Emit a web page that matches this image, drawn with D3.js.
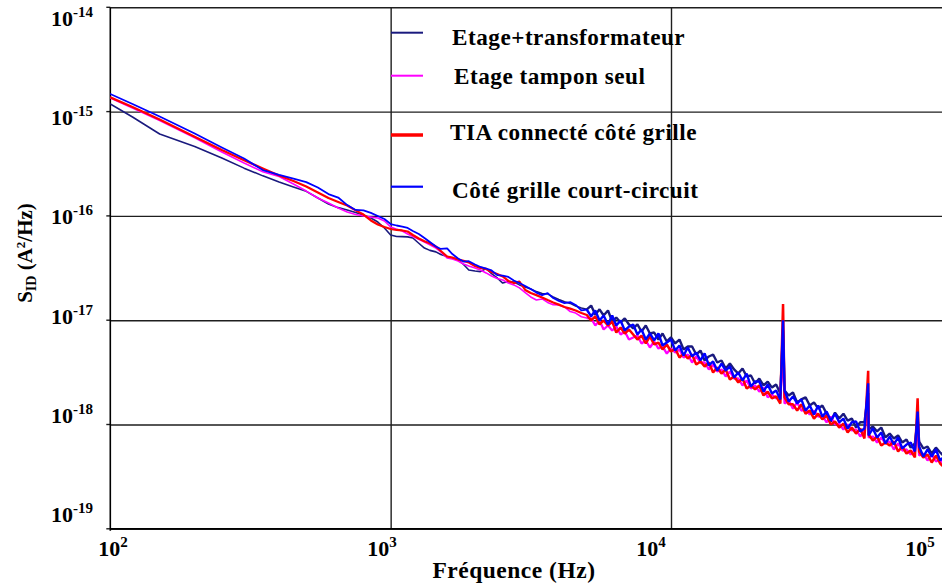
<!DOCTYPE html>
<html><head><meta charset="utf-8">
<script src="https://cdn.jsdelivr.net/npm/d3@7/dist/d3.min.js"></script>
<style>
html,body{margin:0;padding:0;background:#fff;}
svg{display:block;}
text{font-family:"Liberation Serif","Times New Roman",serif;font-weight:bold;fill:#000;}
</style></head><body>
<svg id="chart" width="942" height="584"></svg>
<script>
// ---- data (PSD values in units of 1e-18 A²/Hz) ----
const UNIT = 1e-18;
const freqs = [
100,120,150,200,250,300,350,400,450,500,550,600,650,700,750,800,850,900,950,1000,
1050,1100,1150,1200,1260,1320,1380,1450,1510,1590,1660,1740,1820,1900,2000,2090,2190,2290,2400,2510,2630,2750,2880,3020,3160,3310,3470,3630,3800,3980,4170,4370,4570,4790,5010,
5190,5370,5560,5750,5960,6170,6380,6610,6840,7080,7330,7590,7850,8130,8410,8710,9020,9330,9660,10000,
10350,10720,11090,11480,11890,12300,12740,13180,13650,14130,14620,15140,15670,16220,16790,17380,17990,18620,19280,19950,
20650,21380,22130,22910,23710,24550,25410,26300,27230,28180,29170,30200,31260,32360,33500,34670,35890,37150,38460,39810,
41210,42660,44160,45710,47320,48980,50700,52480,54330,56230,58210,60260,62370,64570,66830,69180,71610,74130,76740,79430,
82220,85110,88100,91200,94410];

const etageTransfo = [
1183,888,610,463,359,287,242,211,189,172,148.5,130,120,114,108,102,95.5,87.3,76.6,65.6,
63.5,63.3,62.9,61.4,54.7,49.2,46.7,45.2,42.6,40.8,39.5,37.8,34.2,30.3,29.6,29.2,31.3,28.0,25.4,22.7,23.5,23.2,21.8,20.8,19.9,18.8,18.0,17.9,16.7,15.8,15.0,14.5,13.7,13.1,12.7,
13.8,11.3,12.7,11.1,12.4,9.72,10.6,9.51,10.4,9.10,
8.33,9.10,7.79,8.90,7.46,7.62,6.53,7.46,6.25,6.83,
5.98,6.53,5.24,5.60,5.60,4.69,5.12,4.11,4.49,4.69,
3.93,4.11,3.44,3.84,3.37,3.08,3.44,2.89,2.95,2.47,
2.76,2.37,2.58,2.26,2.42,1.98,2.12,1.90,2.03,1.63,
1.74,1.82,1.52,1.63,1.42,1.52,1.27,1.07,1.30,1.14,
1.27,1.09,1.14,0.936,1.05,1.05,0.896,0.957,0.857,0.936,
0.751,0.818,0.734,0.785,0.672,0.718,0.600,0.658,0.687,0.589,
0.615,0.527,0.600,0.539,0.493];

const etageTampon = [
1350,1082,822,562,410,321,265,239,202,173,148.5,133,119,109,103,99.8,97.4,95.5,89.3,78.3,
74.6,71.7,67.1,63.3,59.8,56.2,52.7,49.2,45.2,39.5,38.6,37.0,34.6,33.1,31.7,30.3,28.4,26.5,25.1,24.3,22.7,21.8,20.4,18.4,16.7,15.6,16.0,14.8,14.1,14.0,13.4,12.1,11.7,10.8,10.5,
10.4,8.90,9.94,8.14,8.90,7.97,8.70,7.29,7.79,6.53,
6.83,7.13,5.98,6.39,5.47,6.25,5.35,5.60,4.79,5.35,
4.90,5.24,4.39,4.69,3.93,4.49,3.93,3.93,3.37,3.76,
3.22,3.37,2.89,3.22,2.76,2.76,2.37,2.64,2.21,2.37,
2.07,2.26,1.82,1.94,1.78,1.90,1.59,1.70,1.42,1.63,
1.36,1.39,1.25,1.36,1.19,1.22,1.05,1.19,1.00,1.02,
0.896,1.00,0.876,0.896,0.767,0.876,0.751,0.767,0.672,0.751,
0.658,0.687,0.576,0.658,0.563,0.576,0.516,0.576,0.504,0.527,
0.452,0.516,0.442,0.462,0.405];

const tiaGrille = [
1371,1107,840,575,428,342,285,244,216,191,168,148.5,136,126,113,103,90.4,82.7,78.3,74.9,
73.3,72.5,70.9,65.6,60.7,57.2,54.7,50.9,46.1,40.8,39.9,38.2,37.0,35.8,33.1,31.7,31.0,29.0,27.7,26.3,23.8,22.7,23.5,19.5,18.2,17.4,16.5,15.6,14.8,14.1,13.4,12.9,12.4,11.7,11.2,
9.94,10.9,9.10,9.94,8.90,9.72,7.62,8.51,7.46,8.14,
7.29,6.53,7.13,5.98,6.98,5.85,6.11,5.24,5.85,5.01,
5.35,4.39,4.79,4.29,4.69,3.76,4.02,3.60,3.93,3.15,
3.52,3.08,3.37,2.70,2.89,2.53,2.76,2.21,2.37,2.17,
2.37,1.90,2.07,1.78,1.86,1.59,1.82,1.56,1.56,1.36,
1.56,1.27,1.36,1.14,1.27,1.12,1.22,1.00,1.07,0.936,
1.02,0.838,0.936,0.818,0.916,0.734,0.802,0.703,0.767,0.629,
0.672,0.629,0.687,0.551,0.615,0.527,0.563,0.483,0.551,0.483,
0.516,0.432,0.504,0.423,0.387];

const grilleCC = [
1475,1183,898,617,453,355,275,247,228,211,187,162,150,127,114,113,107,99.8,93.4,83.6,
80.9,79.1,76.6,71.7,67.1,61.4,56.2,50.9,48.2,48.9,43.1,39.0,36.5,36.8,34.2,32.4,31.3,30.0,27.1,26.8,26.0,24.0,22.7,21.3,19.9,18.4,17.4,18.2,16.3,15.3,14.6,14.9,14.0,12.4,12.6,
10.9,12.4,9.94,11.1,9.10,11.1,8.90,9.94,7.97,8.70,
9.10,7.29,8.14,6.53,7.46,6.39,7.46,5.72,6.11,6.53,
5.12,5.72,4.59,5.47,4.49,4.90,4.11,4.80,3.68,4.02,
3.29,3.84,3.29,3.60,2.82,3.15,2.64,3.08,2.31,2.58,
2.58,2.07,2.42,1.98,2.12,1.74,2.12,1.66,1.86,1.59,
1.74,1.36,1.52,1.25,1.52,1.19,1.33,1.09,1.27,1.05,
1.14,0.916,1.05,1.07,0.857,0.916,0.785,0.916,0.751,0.838,
0.658,0.767,0.643,0.751,0.589,0.643,0.672,0.551,0.615,0.493,
0.576,0.493,0.576,0.452,0.493];

// line peaks (harmonics)
const spikeFreqs = [25100, 50500, 75800];
const spikeEtageTransfo = [8.0, 2.0, 1.15];
const spikeEtageTampon = [5.0, 1.4, 0.95];
const spikeTiaGrille = [14.3, 3.28, 1.78];
const spikeGrilleCC = [10.0, 2.48, 1.33];

const seriesNames = ["Etage+transformateur", "Etage tampon seul", "TIA connecté côté grille", "Côté grille court-circuit"];
const xTickValues = [1e2, 1e3, 1e4, 1e5];
const xTickExp = ["2", "3", "4", "5"];
const yTickValues = [1e-14, 1e-15, 1e-16, 1e-17, 1e-18, 1e-19];
const yTickExp = ["-14", "-15", "-16", "-17", "-18", "-19"];

// ---- styles ----
const colors = ["#1a1a7e", "#ff00ff", "#ff0000", "#0000ff"];
const widthsSmooth = [1.6, 1.6, 2.2, 1.8];
const widthsNoisy = [2.4, 2.3, 2.5, 2.4];
const legendWidths = [2, 2, 3.5, 2.2];
const NOISY_FROM = 5010;

// ---- layout ----
const W = 942, H = 584;
const L = 110.3, T = 7.3, B = 528.8;
const svg = d3.select("#chart");

const x = d3.scaleLog().domain([1e2, 1e5]).range([L, 951.35]);
const y = d3.scaleLog().domain([1e-19, 1e-14]).range([B, T]);
// label placement scales (labels are spread slightly differently from ticks)
const xLab = d3.scaleLog().domain([1e2, 1e5]).range([113, 920]);
const yLab = d3.scaleLog().domain([1e-19, 1e-14]).range([514, 18]);

// grid (horizontal) via axis
const gy = svg.append("g").attr("transform", `translate(${L},0)`)
  .call(d3.axisLeft(y).tickValues(yTickValues).tickSize(-(W - L)).tickSizeOuter(0).tickFormat(""));
gy.select(".domain").remove();
gy.selectAll(".tick line").attr("stroke", "#1e1e1e").attr("stroke-width", 1.4);
svg.append("g").selectAll("line").data(yTickValues).join("line")
  .attr("x1", L - 4).attr("x2", L).attr("y1", d => y(d)).attr("y2", d => y(d))
  .attr("stroke", "#1e1e1e").attr("stroke-width", 1.4);

// grid (vertical) via axis
const gx = svg.append("g").attr("transform", `translate(0,${B})`)
  .call(d3.axisBottom(x).tickValues([1e3, 1e4]).tickSize(-(B - T)).tickSizeOuter(0).tickFormat(""));
gx.select(".domain").remove();
gx.selectAll(".tick line").attr("stroke", "#1e1e1e").attr("stroke-width", 1.4);

// axes lines
svg.append("line").attr("x1", L).attr("x2", L).attr("y1", T).attr("y2", B + 2)
  .attr("stroke", "#000").attr("stroke-width", 1.6);
svg.append("line").attr("x1", L).attr("x2", W).attr("y1", B).attr("y2", B)
  .attr("stroke", "#000").attr("stroke-width", 1.6);

// clip
svg.append("clipPath").attr("id", "plotclip").append("rect")
  .attr("x", L).attr("y", T - 2).attr("width", W - L).attr("height", B - T + 2);

// series
const seriesVals = [etageTransfo, etageTampon, tiaGrille, grilleCC];
const spikeVals = [spikeEtageTransfo, spikeEtageTampon, spikeTiaGrille, spikeGrilleCC];
const line = d3.line().x(d => x(d.f)).y(d => y(d.v * UNIT));
const plot = svg.append("g").attr("clip-path", "url(#plotclip)");
seriesVals.forEach((vals, i) => {
  const pts = freqs.map((f, j) => ({ f, v: vals[j] }))
    .concat(spikeFreqs.map((f, j) => ({ f, v: spikeVals[i][j] })))
    .sort((a, b) => a.f - b.f);
  const g = plot.append("g");
  g.append("path").datum(pts.filter(d => d.f <= NOISY_FROM)).attr("d", line)
    .attr("fill", "none").attr("stroke", colors[i]).attr("stroke-width", widthsSmooth[i])
    .attr("stroke-linejoin", "round").attr("stroke-linecap", "round");
  g.append("path").datum(pts.filter(d => d.f >= NOISY_FROM)).attr("d", line)
    .attr("fill", "none").attr("stroke", colors[i]).attr("stroke-width", widthsNoisy[i])
    .attr("stroke-linejoin", "bevel");
});

// y tick labels
const yl = svg.append("g").selectAll("text").data(yTickValues).join("text")
  .attr("x", 51).attr("y", d => yLab(d) + 8).attr("font-size", 22);
yl.append("tspan").text("10");
yl.append("tspan").attr("font-size", 15).attr("dy", -9).text((d, i) => yTickExp[i]);

// x tick labels
const xl = svg.append("g").selectAll("text").data(xTickValues).join("text")
  .attr("x", d => xLab(d)).attr("y", 556).attr("text-anchor", "middle").attr("font-size", 22);
xl.append("tspan").text("10");
xl.append("tspan").attr("font-size", 15).attr("dy", -9).text((d, i) => xTickExp[i]);

// axis titles
svg.append("text").attr("x", 514).attr("y", 578).attr("text-anchor", "middle")
  .attr("font-size", 23.5).attr("letter-spacing", 0.5).text("Fréquence (Hz)");
const yt = svg.append("text").attr("transform", "translate(32,253) rotate(-90)")
  .attr("text-anchor", "middle").attr("font-size", 21);
yt.append("tspan").text("S");
yt.append("tspan").attr("font-size", 14).attr("dy", 4).text("ID");
yt.append("tspan").attr("dy", -4).text(" (A");
yt.append("tspan").attr("font-size", 13).attr("dy", -7).text("2");
yt.append("tspan").attr("dy", 7).text("/Hz)");

// legend
const legendRows = [
  { ly: 32.7, tx: 452, ty: 45 },
  { ly: 75.7, tx: 454, ty: 84 },
  { ly: 135, tx: 450, ty: 140 },
  { ly: 186.7, tx: 452, ty: 198 }
];
const lg = svg.append("g").selectAll("g").data(seriesNames).join("g");
lg.append("line").attr("x1", 391).attr("x2", 423)
  .attr("y1", (d, i) => legendRows[i].ly).attr("y2", (d, i) => legendRows[i].ly)
  .attr("stroke", (d, i) => colors[i]).attr("stroke-width", (d, i) => legendWidths[i]);
lg.append("text").attr("x", (d, i) => legendRows[i].tx).attr("y", (d, i) => legendRows[i].ty)
  .attr("font-size", 23.2).attr("letter-spacing", 0.5).text(d => d);
</script>
</body></html>
